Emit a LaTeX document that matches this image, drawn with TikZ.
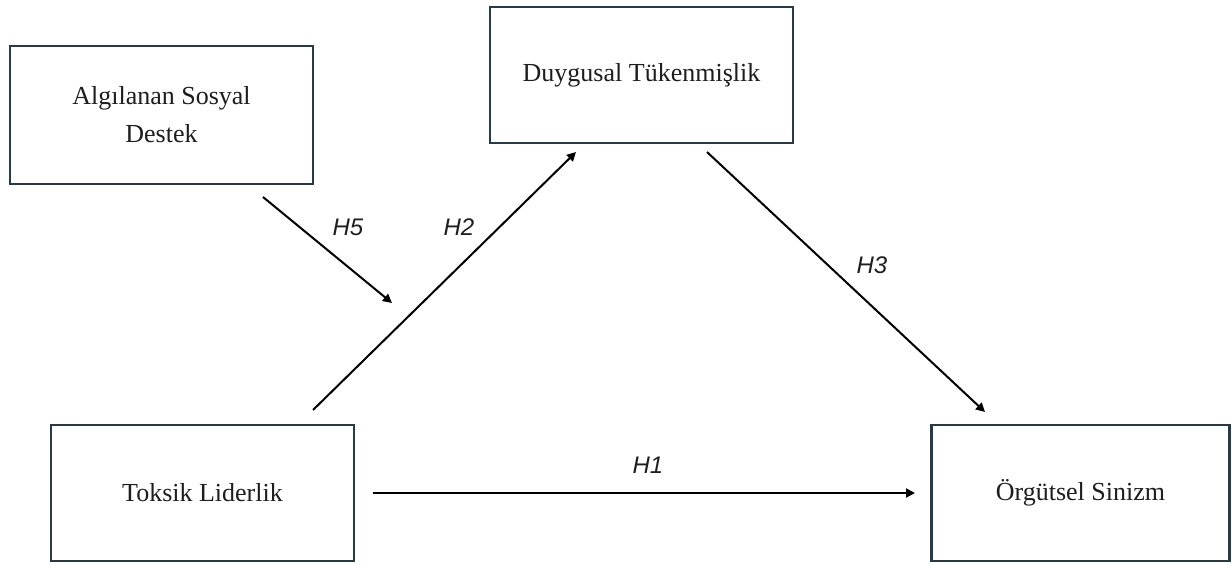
\documentclass[tikz,border=0pt]{standalone}
\usepackage{fontspec}
\setmainfont{Liberation Serif}
\setsansfont{Liberation Sans}
\usetikzlibrary{arrows.meta}
\definecolor{boxline}{RGB}{38,58,74}
\definecolor{ink}{RGB}{30,30,30}
\begin{document}
\begin{tikzpicture}[x=1pt,y=-1pt,
  varbox/.style={draw=boxline, line width=2.2pt, fill=white,
    minimum width=303pt, minimum height=136pt, inner sep=0pt,
    align=center, text=ink, font=\fontsize{26}{38}\selectfont},
  link/.style={draw=black, line width=2pt, -{Triangle[length=9pt,width=9pt]}},
  hyp/.style={font=\sffamily\itshape\fontsize{24}{28}\selectfont, text=ink, inner sep=0pt}]
\useasboundingbox (0,0) rectangle (1232,563);

% variables
\node[varbox, minimum height=138pt] (asd) at (161.5,115) {Algılanan Sosyal\\Destek};
\node[varbox] (dt)  at (641.5,75)  {Duygusal Tükenmişlik};
\node[varbox] (tl)  at (202.5,493) {Toksik Liderlik};
\node[varbox, minimum width=298pt] (os) at (1080.5,493) {Örgütsel Sinizm};

% end points of the paths
\coordinate (h5s) at (263,197);
\coordinate (h5e) at (392,303);
\coordinate (h2s) at (313,410);
\coordinate (h2e) at (576,152);
\coordinate (h3s) at (707,152);
\coordinate (h3e) at (985,412);
\coordinate (h1s) at (373,493);
\coordinate (h1e) at (915,493);

% paths
\draw[link] (h2s) -- (h2e);
\draw[link] (h5s) -- (h5e);
\draw[link] (h3s) -- (h3e);
\draw[link] (h1s) -- (h1e);

% hypothesis labels
\node[hyp] (l5) at (348,227) {H5};
\node[hyp] (l2) at (459,227) {H2};
\node[hyp] (l3) at (872,265) {H3};
\node[hyp] (l1) at (648,465) {H1};
\end{tikzpicture}
\end{document}
